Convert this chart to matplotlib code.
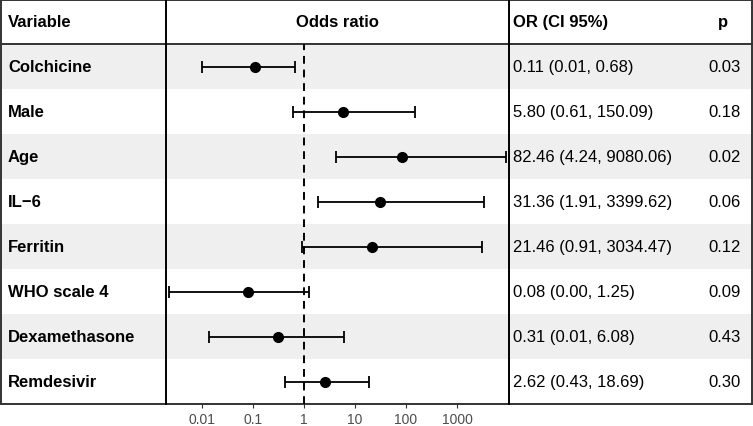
import numpy as np
import matplotlib.pyplot as plt
from matplotlib.patches import Rectangle

plt.rcParams['font.family'] = ['Liberation Sans', 'DejaVu Sans']

variables = ['Colchicine', 'Male', 'Age', 'IL\u22126', 'Ferritin',
             'WHO scale 4', 'Dexamethasone', 'Remdesivir']
odds = [0.11, 5.80, 82.46, 31.36, 21.46, 0.08, 0.31, 2.62]
ci_low = [0.0102, 0.61, 4.24, 1.91, 0.91, 0.0023, 0.014, 0.43]
ci_high = [0.68, 150.09, 9080.06, 3399.62, 3034.47, 1.25, 6.08, 18.69]
pvals = [0.03, 0.18, 0.02, 0.06, 0.12, 0.09, 0.43, 0.30]
ticks = [0.01, 0.1, 1, 10, 100, 1000]
tick_labels = ['0.01', '0.1', '1', '10', '100', '1000']

W, H = 753, 427
fig = plt.figure(figsize=(W / 100, H / 100), dpi=100)

# background axes in pixel coordinates for the table
bg = fig.add_axes([0, 0, 1, 1])
bg.set_xlim(0, W)
bg.set_ylim(H, 0)
bg.axis('off')

head_h = 45
row_h = 45
n = len(variables)
bottom = head_h + n * row_h
col1, col2 = 166, 509
line_c = '#333333'
fs = 12

for i in range(n):
    y0 = head_h + i * row_h
    if i % 2 == 0:
        bg.add_patch(Rectangle((0, y0), W, row_h, color='#EFEFEF', lw=0, zorder=0))
    yc = y0 + row_h / 2
    bg.text(8, yc, variables[i], ha='left', va='center', fontsize=fs,
            fontweight='bold', color='black')
    txt = f'{odds[i]:.2f} ({ci_low[i]:.2f}, {ci_high[i]:.2f})'
    bg.text(513, yc, txt, ha='left', va='center', fontsize=fs, color='black')
    bg.text(741, yc, f'{pvals[i]:.2f}', ha='right', va='center', fontsize=fs,
            color='black')

hy = head_h / 2
bg.text(8, hy, 'Variable', ha='left', va='center', fontsize=fs, fontweight='bold')
bg.text((col1 + col2) / 2, hy, 'Odds ratio', ha='center', va='center',
        fontsize=fs, fontweight='bold')
bg.text(513, hy, 'OR (CI 95%)', ha='left', va='center', fontsize=fs,
        fontweight='bold')
bg.text(723, hy, 'p', ha='center', va='center', fontsize=fs, fontweight='bold')

# table lines
lw = 1.4
bg.plot([1, W - 1], [1, 1], color=line_c, lw=lw)
bg.plot([1, W - 1], [head_h, head_h], color=line_c, lw=lw)
bg.plot([1, W - 1], [bottom, bottom], color=line_c, lw=lw)
bg.plot([1, 1], [1, bottom], color=line_c, lw=lw)
bg.plot([W - 1, W - 1], [1, bottom], color=line_c, lw=lw)
bg.plot([col1, col1], [1, bottom], color='black', lw=lw)
bg.plot([col2, col2], [1, bottom], color='black', lw=lw)

# forest panel
ax = fig.add_axes([col1 / W, (H - bottom) / H, (col2 - col1) / W, (bottom - head_h) / H])
ax.set_facecolor('none')
ax.set_xscale('log')
ax.set_xlim(10 ** -2.706, 10 ** 4.02)
ax.set_ylim(n - 0.5, -0.5)
ypos = np.arange(n)
ax.errorbar(odds, ypos,
            xerr=[np.array(odds) - np.array(ci_low), np.array(ci_high) - np.array(odds)],
            fmt='o', color='black', ms=7, elinewidth=1.3, capsize=4, capthick=1.3,
            zorder=3)
ax.axvline(1, color='black', ls=(0, (4, 3)), lw=1.4, zorder=2)
ax.set_xticks(ticks)
ax.set_xticklabels(tick_labels)
ax.minorticks_off()
ax.set_yticks([])
for s in ax.spines.values():
    s.set_visible(False)
ax.tick_params(axis='x', length=3, width=0.8, color='#333333', labelcolor='#4D4D4D',
               labelsize=10, pad=3)

fig.savefig('out.png', dpi=100)
